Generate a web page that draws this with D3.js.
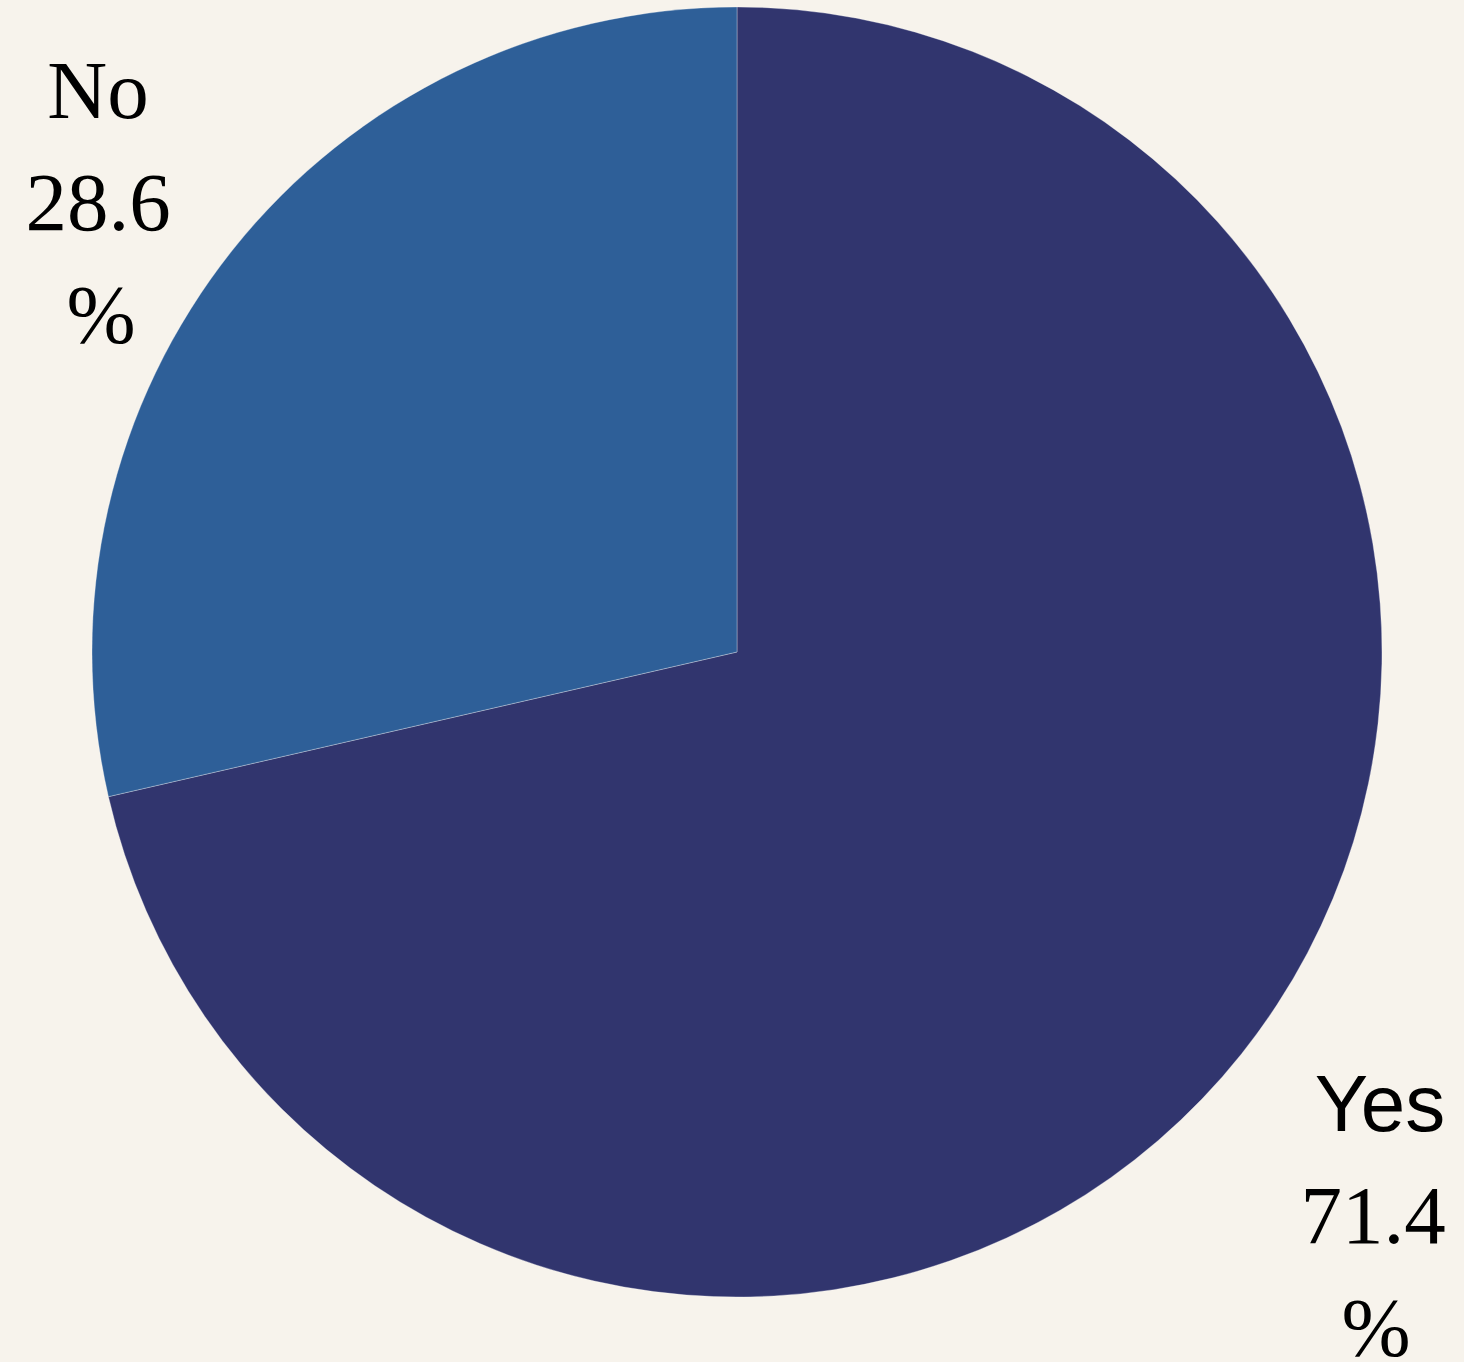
<!DOCTYPE html>
<html><head><meta charset="utf-8">
<script src="https://cdn.jsdelivr.net/npm/d3@7"></script>
<style>html,body{margin:0;padding:0;background:#f7f3ec;}svg{display:block;}
.serif{font-family:'Liberation Serif','Times New Roman',Times,serif;}
.sans{font-family:'Liberation Sans',Arial,Helvetica,sans-serif;}
</style>
</head><body>
<script>
const categories = ["Yes", "No"];
const values = [71.4, 28.6];
const labelTexts = ["71.4", "28.6"];
const colors = ["#31356e", "#2e5f98"];

const W = 1464, H = 1362;
const cx = 737, cy = 652, R = 645;
const svg = d3.select("body").append("svg").attr("width", W).attr("height", H);
svg.append("rect").attr("width", W).attr("height", H).attr("fill", "#f7f3ec");

const data = categories.map((c, i) => ({cat: c, value: values[i], label: labelTexts[i], color: colors[i]}));
const pie = d3.pie().value(d => d.value).sort(null);
const arc = d3.arc().innerRadius(0).outerRadius(R);
const g = svg.append("g").attr("transform", `translate(${cx},${cy})`);
const arcs = pie(data);
g.selectAll("path").data(arcs).join("path")
  .attr("d", arc).attr("fill", d => d.data.color)
  .attr("stroke", "rgba(255,255,255,0.3)").attr("stroke-width", 1);

// label anchors (layout): placed outside along slice direction
const labelPos = {"Yes": [1373, 1131], "No": [98, 118]};
const lineGap = 112;
arcs.forEach(a => {
  const [lx, ly] = labelPos[a.data.cat];
  const isYes = a.data.cat === "Yes";
  const t = svg.append("g").attr("text-anchor", "middle").attr("fill", "#000");
  t.append("text").attr("class", isYes ? "sans" : "serif")
    .attr("x", isYes ? lx + 7 : lx).attr("y", ly)
    .attr("font-size", isYes ? 80 : 83).text(a.data.cat);
  t.append("text").attr("class", "serif").attr("x", lx).attr("y", ly + lineGap)
    .attr("font-size", 83).text(a.data.label);
  t.append("text").attr("class", "serif").attr("x", lx + 3).attr("y", ly + 2 * lineGap)
    .attr("font-size", 83).text("%");
});
</script>
</body></html>
